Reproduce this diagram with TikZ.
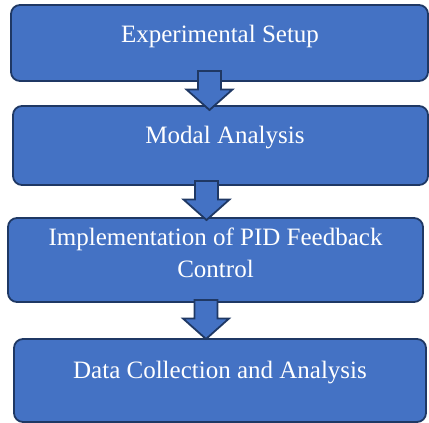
\documentclass[tikz,border=0pt]{standalone}
\usepackage{fontspec}
\setmainfont{Liberation Serif}
\definecolor{boxblue}{HTML}{4472C4}
\definecolor{boxline}{HTML}{1F3864}

\begin{document}
\begin{tikzpicture}[x=1pt,y=-1pt,
  stage/.style={draw=boxline,line width=1.8pt,fill=boxblue,rounded corners=9pt},
  stagetext/.style={text=white,font=\fontsize{25}{32}\selectfont,anchor=base,align=center},
  flow/.style={draw=boxline,line width=1.8pt,fill=boxblue,line join=miter}]
  \useasboundingbox (0,0) rectangle (429,423);
  % the four stages
  \node[stage,minimum width=417,minimum height=76] (setup) at (219.5,43) {};
  \node[stage,minimum width=415,minimum height=79] (modal) at (220.5,145.5) {};
  \node[stage,minimum width=415,minimum height=84] (pid) at (215.5,260) {};
  \node[stage,minimum width=412,minimum height=83] (data) at (220,380.5) {};
  \node[stagetext] (setuplbl) at (220,42) {Experimental Setup};
  \node[stagetext] (modallbl) at (225,143) {Modal Analysis};
  \node[stagetext] (pidlbl) at (215.5,277) {Implementation of PID Feedback\\Control};
  \node[stagetext] (datalbl) at (220,378) {Data Collection and Analysis};
  % block arrows between stages
  \foreach \top/\x in {71/209.5,181/206.5,300/206} {
    \draw[flow] (\x-11.5,\top) -- (\x+11.5,\top) -- (\x+11.5,\top+18.5) -- (\x+23,\top+18.5)
      -- (\x,\top+39) -- (\x-23,\top+18.5) -- (\x-11.5,\top+18.5) -- cycle;
  }
\end{tikzpicture}
\end{document}
